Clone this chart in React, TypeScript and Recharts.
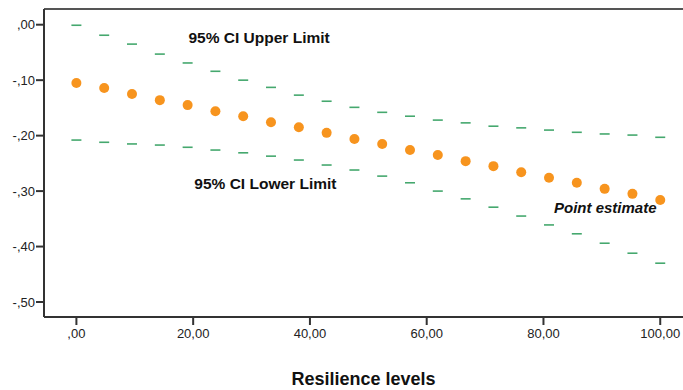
import React from "react";
import {
  ScatterChart,
  Scatter,
  XAxis,
  YAxis,
  ReferenceLine,
  ReferenceDot,
} from "recharts";

const resilienceLevels = [
  0, 4.76, 9.52, 14.29, 19.05, 23.81, 28.57, 33.33, 38.1, 42.86, 47.62, 52.38,
  57.14, 61.9, 66.67, 71.43, 76.19, 80.95, 85.71, 90.48, 95.24, 100,
];
const pointEstimate = [
  -0.105, -0.114, -0.125, -0.136, -0.145, -0.156, -0.165, -0.176, -0.185,
  -0.195, -0.206, -0.215, -0.226, -0.235, -0.246, -0.255, -0.266, -0.276,
  -0.285, -0.296, -0.305, -0.316,
];
const upperLimit = [
  -0.001, -0.019, -0.035, -0.053, -0.069, -0.084, -0.1, -0.113, -0.127,
  -0.138, -0.149, -0.158, -0.165, -0.172, -0.177, -0.183, -0.186, -0.19,
  -0.194, -0.197, -0.199, -0.203,
];
const lowerLimit = [
  -0.208, -0.212, -0.215, -0.217, -0.221, -0.226, -0.231, -0.237, -0.244,
  -0.253, -0.262, -0.273, -0.285, -0.3, -0.314, -0.329, -0.345, -0.361,
  -0.377, -0.394, -0.412, -0.43,
];
const xTicks = [0, 20, 40, 60, 80, 100];
const yTicks = [0, -0.1, -0.2, -0.3, -0.4, -0.5];

const X_DOMAIN: [number, number] = [-5.55, 103.9];
const Y_DOMAIN: [number, number] = [-0.527, 0.0283];

const estimateData = resilienceLevels.map((x, i) => ({ x, y: pointEstimate[i] }));
const upperData = resilienceLevels.map((x, i) => ({ x, y: upperLimit[i] }));
const lowerData = resilienceLevels.map((x, i) => ({ x, y: lowerLimit[i] }));

const FONT = "'Liberation Sans', Arial, sans-serif";

const fmt = (v: number) => {
  const s = Math.abs(v).toFixed(2).replace(".", ",");
  const t = s.startsWith("0,") ? s.slice(1) : s;
  return (v < -1e-9 ? "-" : "") + t;
};

const Dash = (props: any) => {
  const { cx, cy } = props;
  if (cx == null || cy == null) return <g />;
  return (
    <line
      x1={cx - 5}
      x2={cx + 5}
      y1={cy}
      y2={cy}
      stroke="#45a86e"
      strokeWidth={1.6}
    />
  );
};

const Dot = (props: any) => {
  const { cx, cy } = props;
  if (cx == null || cy == null) return <g />;
  return <circle cx={cx} cy={cy} r={5} fill="#f7941e" />;
};

const makeLabel = (text: string, italic: boolean, size: number) => (p: any) => (
  <text
    x={p.cx}
    y={p.cy}
    fontFamily={FONT}
    fontWeight="bold"
    fontStyle={italic ? "italic" : "normal"}
    fontSize={size}
    fill="#111"
  >
    {text}
  </text>
);

export default function App() {
  return (
    <div style={{ position: "absolute", left: 0, top: 0, width: 683, height: 390, background: "#fff" }}>
      <ScatterChart
        width={683}
        height={390}
        margin={{ top: 9, right: 0, left: 0, bottom: 0 }}
      >
        <XAxis
          type="number"
          dataKey="x"
          domain={X_DOMAIN}
          ticks={xTicks}
          tickFormatter={fmt}
          allowDataOverflow
          height={73}
          tickSize={8}
          tickMargin={4}
          stroke="#333"
          strokeWidth={2}
          tick={{ fill: "#222", fontSize: 13, fontFamily: FONT }}
          label={{
            value: "Resilience levels",
            position: "insideBottom",
            offset: 5,
            fill: "#111",
            fontSize: 18,
            fontWeight: "bold",
            fontFamily: FONT,
          }}
        />
        <YAxis
          type="number"
          dataKey="y"
          domain={Y_DOMAIN}
          ticks={yTicks}
          tickFormatter={fmt}
          allowDataOverflow
          width={44}
          tickSize={8}
          tickMargin={1}
          stroke="#333"
          strokeWidth={2}
          tick={{ fill: "#222", fontSize: 13, fontFamily: FONT }}
        />
        <ReferenceLine y={Y_DOMAIN[1]} stroke="#555" strokeWidth={2} ifOverflow="visible" />
        <Scatter data={upperData} shape={Dash} isAnimationActive={false} />
        <Scatter data={lowerData} shape={Dash} isAnimationActive={false} />
        <Scatter data={estimateData} shape={Dot} isAnimationActive={false} />
        <ReferenceDot x={19.2} y={-0.0335} r={0} ifOverflow="visible" shape={makeLabel("95% CI Upper Limit", false, 15.5)} />
        <ReferenceDot x={20.2} y={-0.2962} r={0} ifOverflow="visible" shape={makeLabel("95% CI Lower Limit", false, 15.5)} />
        <ReferenceDot x={81.8} y={-0.3395} r={0} ifOverflow="visible" shape={makeLabel("Point estimate", true, 15)} />
      </ScatterChart>
    </div>
  );
}
